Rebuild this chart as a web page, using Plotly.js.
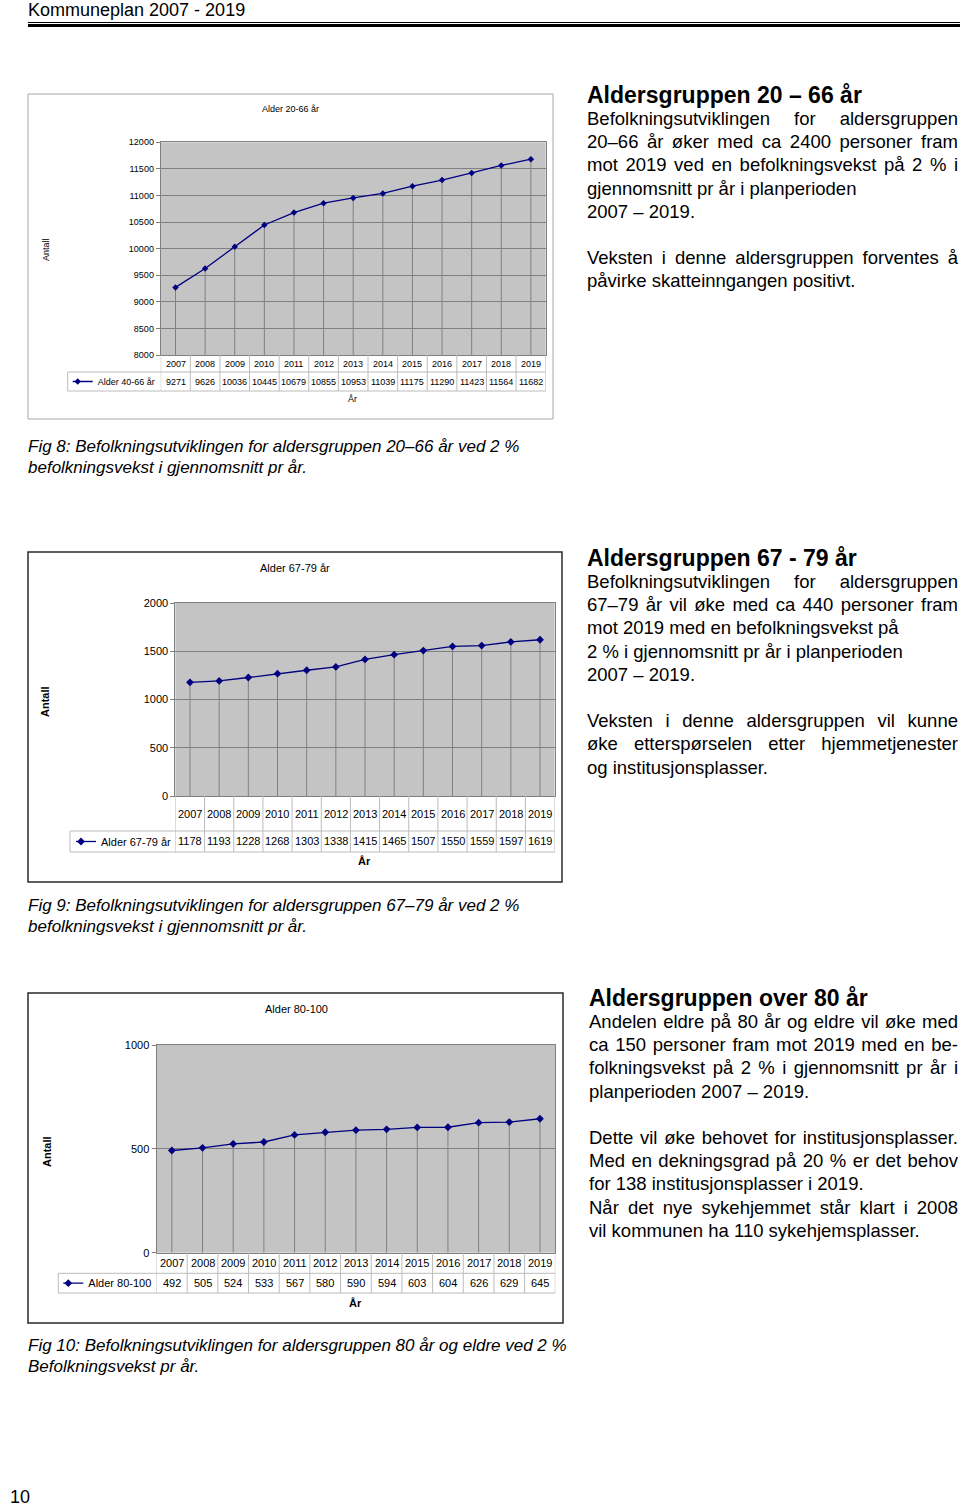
<!DOCTYPE html>
<html><head><meta charset="utf-8">
<script src="https://cdn.plot.ly/plotly-3.0.1.min.js"></script>
<style>
html,body{margin:0;padding:0;background:#fff;}
#page{position:relative;width:960px;height:1509px;overflow:hidden;font-family:"Liberation Sans",Arial,sans-serif;color:#000;background:#fff;}
#plot{position:absolute;left:0;top:0;width:960px;height:1509px;z-index:1;}
.t{position:absolute;white-space:nowrap;z-index:2;}
.blk{position:absolute;z-index:2;}
.blk .h{font-weight:bold;font-size:23px;line-height:24px;height:24px;white-space:nowrap;}
.blk .l{font-size:18.5px;line-height:23.2px;height:23.2px;white-space:nowrap;}
.blk .j{text-align:justify;text-align-last:justify;}
.cap{position:absolute;left:28px;font-style:italic;font-size:17px;line-height:21px;white-space:nowrap;z-index:2;}
.rule{position:absolute;left:28px;width:932px;background:#000;z-index:2;}
</style></head>
<body>
<div id="page">
  <div id="plot"></div>
  <div class="t" style="left:28px;top:0px;font-size:18px;line-height:20px;">Kommuneplan 2007 - 2019</div>
  <div class="rule" style="top:22px;height:1px;"></div>
  <div class="rule" style="top:24px;height:3px;"></div>

  <div class="blk" style="left:587px;top:83px;width:371px;">
    <div class="h">Aldersgruppen 20 – 66 år</div>
    <div class="l j">Befolkningsutviklingen for aldersgruppen</div>
    <div class="l j">20–66 år øker med ca 2400 personer fram</div>
    <div class="l j">mot 2019 ved en befolkningsvekst på 2 % i</div>
    <div class="l">gjennomsnitt pr år i planperioden</div>
    <div class="l">2007 – 2019.</div>
    <div class="l"></div>
    <div class="l j">Veksten i denne aldersgruppen forventes å</div>
    <div class="l">påvirke skatteinngangen positivt.</div>
  </div>

  <div class="cap" style="top:435.5px;">Fig 8: Befolkningsutviklingen for aldersgruppen 20–66 år ved 2 %<br>befolkningsvekst i gjennomsnitt pr år.</div>

  <div class="blk" style="left:587px;top:546px;width:371px;">
    <div class="h">Aldersgruppen 67 - 79 år</div>
    <div class="l j">Befolkningsutviklingen for aldersgruppen</div>
    <div class="l j">67–79 år vil øke med ca 440 personer fram</div>
    <div class="l">mot 2019 med en befolkningsvekst på</div>
    <div class="l">2 % i gjennomsnitt pr år i planperioden</div>
    <div class="l">2007 – 2019.</div>
    <div class="l"></div>
    <div class="l j">Veksten i denne aldersgruppen vil kunne</div>
    <div class="l j">øke etterspørselen etter hjemmetjenester</div>
    <div class="l">og institusjonsplasser.</div>
  </div>

  <div class="cap" style="top:894.5px;">Fig 9: Befolkningsutviklingen for aldersgruppen 67–79 år ved 2 %<br>befolkningsvekst i gjennomsnitt pr år.</div>

  <div class="blk" style="left:589px;top:986px;width:369px;">
    <div class="h">Aldersgruppen over 80 år</div>
    <div class="l j">Andelen eldre på 80 år og eldre vil øke med</div>
    <div class="l j">ca 150 personer fram mot 2019 med en be-</div>
    <div class="l j">folkningsvekst på 2 % i gjennomsnitt pr år i</div>
    <div class="l">planperioden 2007 – 2019.</div>
    <div class="l"></div>
    <div class="l j">Dette vil øke behovet for institusjonsplasser.</div>
    <div class="l j">Med en dekningsgrad på 20 % er det behov</div>
    <div class="l">for 138 institusjonsplasser i 2019.</div>
    <div class="l j">Når det nye sykehjemmet står klart i 2008</div>
    <div class="l">vil kommunen ha 110 sykehjemsplasser.</div>
  </div>

  <div class="cap" style="top:1334.5px;">Fig 10: Befolkningsutviklingen for aldersgruppen 80 år og eldre ved 2 %<br>Befolkningsvekst pr år.</div>

  <div class="t" style="left:10px;top:1487px;font-size:18px;line-height:20px;">10</div>
</div>
<script>
// ---- data ----
const years = ['2007','2008','2009','2010','2011','2012','2013','2014','2015','2016','2017','2018','2019'];
const alder20_66 = [9271, 9626, 10036, 10445, 10679, 10855, 10953, 11039, 11175, 11290, 11423, 11564, 11682];
const alder67_79 = [1178, 1193, 1228, 1268, 1303, 1338, 1415, 1465, 1507, 1550, 1559, 1597, 1619];
const alder80_100 = [492, 505, 524, 533, 567, 580, 590, 594, 603, 604, 626, 629, 645];
const seriesNames = ['Alder 40-66 år', 'Alder 67-79 år', 'Alder 80-100'];
const chartTitles = ['Alder 20-66 år', 'Alder 67-79 år', 'Alder 80-100'];
const yAxisTitle = 'Antall';
const xAxisTitle = 'År';
const yRanges = [[8000, 12000], [0, 2000], [0, 1000]];
const yDticks = [500, 500, 500];
const series = [alder20_66, alder67_79, alder80_100];

// ---- layout geometry (pixels) ----
const FONT = '"Liberation Sans", Arial, sans-serif';
const W = 960, H = 1509;
const X = px => px / W;
const Y = py => 1 - py / H;
const geo = [
  {box:[28,94,553,419], boxColor:'#a8a8a8', boxW:1, plot:[160.7,142.3,545.7,355], yearRow:[355,372], valRow:[372,391], legLeft:67.7, legShift:5, title:[290,109], antall:[46,250], ar:[352,399], fs:9, bold:false, msize:5},
  {box:[28,552,562,882], boxColor:'#2a2a2a', boxW:1.5, plot:[175.4,603,554.6,796], yearRow:[796,831], valRow:[831,852], legLeft:70, legShift:6, title:[295,568], antall:[45,702], ar:[364,861], fs:11, bold:true, msize:6},
  {box:[28,993,563,1323], boxColor:'#2a2a2a', boxW:1.5, plot:[156.5,1045,555.3,1252.7], yearRow:[1252.7,1273.3], valRow:[1273.3,1293], legLeft:58.3, legShift:5, title:[296,1009], antall:[47,1152], ar:[355,1303], fs:11, bold:true, msize:6}
];

const data = [];
const layout = {
  width: W, height: H, margin: {l:0, r:0, t:0, b:0},
  paper_bgcolor: 'rgba(0,0,0,0)', plot_bgcolor: '#c4c4c4',
  font: {family: FONT, color: '#000'},
  showlegend: true, shapes: [], annotations: [], hovermode: false
};
const tableLine = {color:'#bcbcbc', width:1};

series.forEach((vals, i) => {
  const g = geo[i];
  const n = i ? String(i + 1) : '';
  const xa = 'x' + n, ya = 'y' + n;
  layout['xaxis' + n] = {
    domain: [X(g.plot[0]), X(g.plot[2])], anchor: ya, type: 'category',
    range: [-0.5, years.length - 0.5], showgrid: false, showticklabels: false, ticks: '',
    showline: true, linecolor: '#808080', linewidth: 1, mirror: true, zeroline: false, fixedrange: true
  };
  layout['yaxis' + n] = {
    domain: [Y(g.plot[3]), Y(g.plot[1])], anchor: xa, range: yRanges[i], dtick: yDticks[i], tick0: 0,
    tickformat: 'd',
    showgrid: true, gridcolor: '#808080', gridwidth: 1, showline: true, linecolor: '#808080', mirror: true,
    ticks: 'outside', ticklen: 4, tickcolor: '#808080', tickfont: {size: g.fs, family: FONT, color:'#000'},
    zeroline: false, fixedrange: true
  };
  data.push({
    type: 'scatter', mode: 'lines+markers', x: years, y: vals, xaxis: xa, yaxis: ya,
    name: seriesNames[i], legend: 'legend' + n,
    line: {color: '#000080', width: 1.3},
    marker: {symbol: 'diamond', size: g.msize, color: '#000080'},
    error_y: {type: 'data', symmetric: false, array: vals.map(() => 0),
              arrayminus: vals.map(v => v - yRanges[i][0]), color: '#808080', thickness: 1, width: 0}
  });
  const vrc = (g.valRow[0] + g.valRow[1]) / 2;
  const yrc = (g.yearRow[0] + g.yearRow[1]) / 2;
  layout['legend' + n] = {
    x: X(g.legLeft + g.legShift), y: Y(vrc), xanchor: 'left', yanchor: 'middle', xref: 'paper', yref: 'paper',
    font: {size: g.fs, family: FONT, color: '#000'}, bgcolor: 'rgba(0,0,0,0)', borderwidth: 0,
    itemwidth: 30, indentation: -15, itemclick: false, itemdoubleclick: false
  };
  // outer chart box
  layout.shapes.push({type:'rect', xref:'paper', yref:'paper', x0:X(g.box[0]), x1:X(g.box[2]), y0:Y(g.box[3]), y1:Y(g.box[1]),
    line:{color:g.boxColor, width:g.boxW}, fillcolor:'rgba(0,0,0,0)', layer:'below'});
  // data table cell borders (category boundaries on the x axis)
  for (let j = 0; j <= years.length; j++) {
    layout.shapes.push({type:'line', xref:xa, yref:'paper', x0:j - 0.5, x1:j - 0.5, y0:Y(g.plot[3]), y1:Y(g.valRow[1]), line:tableLine});
  }
  layout.shapes.push({type:'line', xref:'paper', yref:'paper', x0:X(g.legLeft), x1:X(g.plot[2]), y0:Y(g.yearRow[1]), y1:Y(g.yearRow[1]), line:tableLine});
  layout.shapes.push({type:'line', xref:'paper', yref:'paper', x0:X(g.legLeft), x1:X(g.plot[2]), y0:Y(g.valRow[1]), y1:Y(g.valRow[1]), line:tableLine});
  layout.shapes.push({type:'line', xref:'paper', yref:'paper', x0:X(g.legLeft), x1:X(g.legLeft), y0:Y(g.valRow[0]), y1:Y(g.valRow[1]), line:tableLine});
  // table texts (category index positions on the x axis)
  years.forEach((yr, j) => {
    layout.annotations.push({xref:xa, yref:'paper', x:j, y:Y(yrc), text:yr, showarrow:false, xanchor:'center', yanchor:'middle',
      font:{size:g.fs, family:FONT, color:'#000'}});
    layout.annotations.push({xref:xa, yref:'paper', x:j, y:Y(vrc), text:String(vals[j]), showarrow:false, xanchor:'center', yanchor:'middle',
      font:{size:g.fs, family:FONT, color:'#000'}});
  });
  // titles
  layout.annotations.push({xref:'paper', yref:'paper', x:X(g.title[0]), y:Y(g.title[1]), text:chartTitles[i], showarrow:false,
    xanchor:'center', yanchor:'middle', font:{size:g.fs, family:FONT, color:'#000'}});
  const b = s => g.bold ? '<b>' + s + '</b>' : s;
  layout.annotations.push({xref:'paper', yref:'paper', x:X(g.antall[0]), y:Y(g.antall[1]), text:b(yAxisTitle), textangle:-90, showarrow:false,
    xanchor:'center', yanchor:'middle', font:{size:g.fs, family:FONT, color:'#000'}});
  layout.annotations.push({xref:'paper', yref:'paper', x:X(g.ar[0]), y:Y(g.ar[1]), text:b(xAxisTitle), showarrow:false,
    xanchor:'center', yanchor:'middle', font:{size:g.fs, family:FONT, color:'#000'}});
});

Plotly.newPlot('plot', data, layout, {staticPlot: true, displayModeBar: false});
</script>
</body></html>
